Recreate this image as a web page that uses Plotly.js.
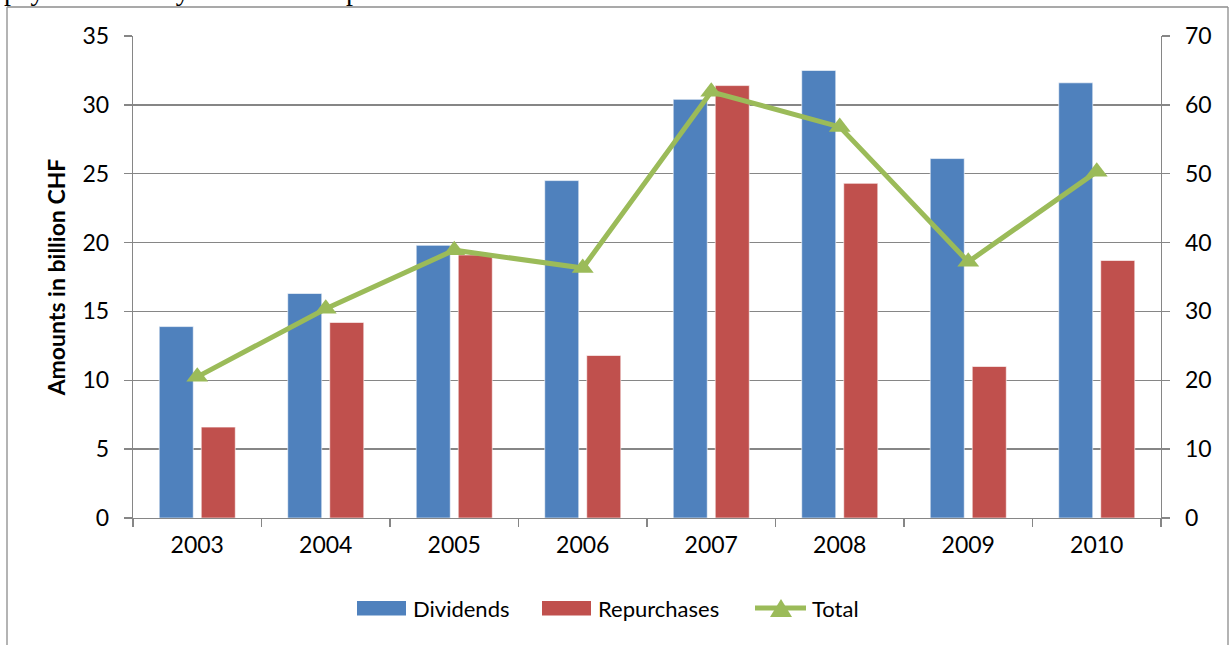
<!DOCTYPE html>
<html>
<head>
<meta charset="utf-8">
<script src="https://cdn.plot.ly/plotly-3.0.1.min.js"></script>
<style>html,body{margin:0;padding:0;background:#fff;}#chart{width:1229px;height:645px;}</style>
</head>
<body>
<div id="chart"></div>
<script>
const years = ['2003', '2004', '2005', '2006', '2007', '2008', '2009', '2010'];
const dividends = [13.9, 16.3, 19.8, 24.5, 30.4, 32.5, 26.1, 31.6];
const repurchases = [6.6, 14.2, 19.1, 11.8, 31.4, 24.3, 11.0, 18.7];
const total = [20.5, 30.4, 38.9, 36.3, 61.9, 56.8, 37.2, 50.3];
const leftTicks = [0, 5, 10, 15, 20, 25, 30, 35];
const rightTicks = [0, 10, 20, 30, 40, 50, 60, 70];
const seriesNames = ['Dividends', 'Repurchases', 'Total'];
const caption = 'payout of each year in the sample.';
const yTitle = 'Amounts in billion CHF';

const BLUE = '#4F81BD', RED = '#C0504D', GREEN = '#9BBB59', GRID = '#868686';
const FONT = 'Lato, "Open Sans", sans-serif';

const traces = [
  {type: 'bar', name: seriesNames[0], x: years, y: dividends, yaxis: 'y',
   marker: {color: BLUE, line: {color: 'rgba(255,255,255,0.6)', width: 1}}, showlegend: false},
  {type: 'bar', name: seriesNames[1], x: years, y: repurchases, yaxis: 'y',
   marker: {color: RED, line: {color: 'rgba(255,255,255,0.6)', width: 1}}, showlegend: false},
  {type: 'scatter', mode: 'lines+markers', name: seriesNames[2], x: years, y: total, yaxis: 'y2',
   line: {color: GREEN, width: 5}, marker: {symbol: 'triangle-up', size: 19, color: GREEN}, showlegend: false}
];

// pixel -> paper helpers (plot area: x 133..1161, y 36..518)
const PL = 133, PR = 1161, PT = 36, PB = 518;
const px = v => (v - PL) / (PR - PL);
const py = v => (PB - v) / (PB - PT);

const legendY = 608;
const shapes = [
  // outer frame (left, top, right)
  {type: 'line', xref: 'paper', yref: 'paper', x0: px(7), x1: px(7), y0: py(7), y1: py(660), line: {color: '#8c8c8c', width: 1.3}},
  {type: 'line', xref: 'paper', yref: 'paper', x0: px(7), x1: px(1228), y0: py(7), y1: py(7), line: {color: '#8c8c8c', width: 1.3}},
  {type: 'line', xref: 'paper', yref: 'paper', x0: px(1228), x1: px(1228), y0: py(7), y1: py(660), line: {color: '#8c8c8c', width: 1.3}},
  // legend swatches
  {type: 'rect', xref: 'paper', yref: 'paper', x0: px(357), x1: px(406), y0: py(601), y1: py(615.5), fillcolor: BLUE, line: {width: 0}},
  {type: 'rect', xref: 'paper', yref: 'paper', x0: px(542), x1: px(591), y0: py(601), y1: py(615.5), fillcolor: RED, line: {width: 0}},
  {type: 'line', xref: 'paper', yref: 'paper', x0: px(755), x1: px(806), y0: py(legendY), y1: py(legendY), line: {color: GREEN, width: 5}},
  {type: 'path', xref: 'paper', yref: 'paper', fillcolor: GREEN, line: {width: 0},
   path: `M ${px(770)},${py(617)} L ${px(792)},${py(617)} L ${px(781)},${py(599)} Z`}
];

const annotations = [
  {xref: 'paper', yref: 'paper', x: px(357 + 54), y: py(legendY), xanchor: 'left', yanchor: 'middle', showarrow: false,
   text: seriesNames[0], font: {family: FONT, size: 22, color: '#000'}},
  {xref: 'paper', yref: 'paper', x: px(542 + 54), y: py(legendY), xanchor: 'left', yanchor: 'middle', showarrow: false,
   text: seriesNames[1], font: {family: FONT, size: 22, color: '#000'}},
  {xref: 'paper', yref: 'paper', x: px(810), y: py(legendY), xanchor: 'left', yanchor: 'middle', showarrow: false,
   text: seriesNames[2], font: {family: FONT, size: 22, color: '#000'}},
  {xref: 'paper', yref: 'paper', x: px(2), y: py(8), xanchor: 'left', yanchor: 'bottom', showarrow: false,
   text: caption, font: {family: '"Liberation Serif", "Times New Roman", serif', size: 28, color: '#000'}}
];

const layout = {
  width: 1229, height: 645,
  margin: {l: PL, r: 1229 - PR, t: PT, b: 645 - PB, pad: 0},
  paper_bgcolor: '#fff', plot_bgcolor: '#fff',
  barmode: 'group', bargap: 0.346, bargroupgap: 0.19,
  font: {family: FONT, size: 23, color: '#000'},
  showlegend: false,
  xaxis: {type: 'category', tickson: 'boundaries', ticks: 'outside', ticklen: 8, tickcolor: GRID, tickwidth: 1.3,
          showline: true, linecolor: GRID, linewidth: 1.3, showgrid: false, ticklabelstandoff: 6,
          tickfont: {family: FONT, size: 23, color: '#000'}},
  yaxis: {range: [0, 35], tickvals: leftTicks, ticks: 'outside', ticklen: 8, tickcolor: GRID, tickwidth: 1.3,
          showline: true, linecolor: GRID, linewidth: 1.3, showgrid: true, gridcolor: GRID, gridwidth: 1.3,
          zeroline: false, ticklabelstandoff: 10,
          tickfont: {family: FONT, size: 23, color: '#000'},
          title: {text: yTitle, font: {family: FONT, size: 23, color: '#000', weight: 'bold'}, standoff: 10}},
  yaxis2: {range: [0, 70], tickvals: rightTicks, overlaying: 'y', side: 'right', ticks: 'outside', ticklen: 8,
           tickcolor: GRID, tickwidth: 1.3, showline: true, linecolor: GRID, linewidth: 1.3, showgrid: false,
           zeroline: false, ticklabelstandoff: 10,
           tickfont: {family: FONT, size: 23, color: '#000'}},
  shapes: shapes,
  annotations: annotations
};

Plotly.newPlot('chart', traces, layout, {displayModeBar: false, staticPlot: true});
</script>
</body>
</html>
